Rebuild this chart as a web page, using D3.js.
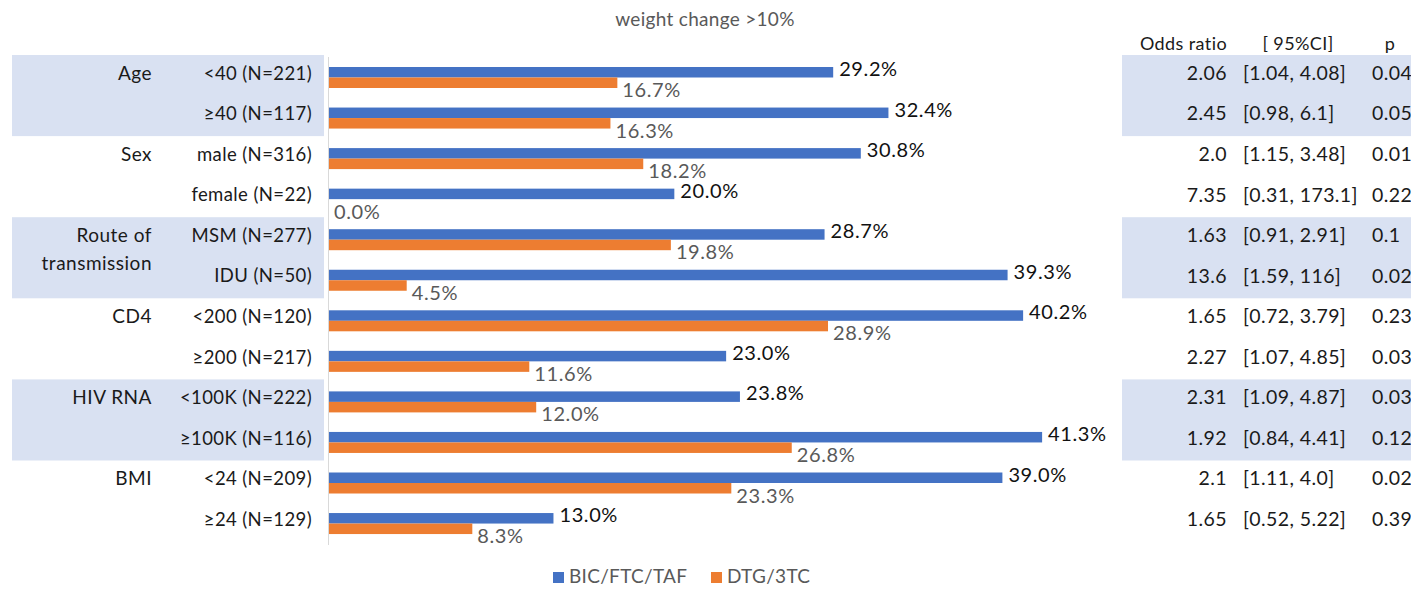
<!DOCTYPE html>
<html>
<head>
<meta charset="utf-8">
<script src="https://cdn.jsdelivr.net/npm/d3@7/dist/d3.min.js"></script>
<style>
  html, body { margin: 0; padding: 0; background: #fff; }
  svg text { font-family: Lato, "Open Sans", sans-serif; }
</style>
</head>
<body>
<svg id="chart" width="1411" height="592"></svg>
<script>
// Subgroups, top to bottom
const subgroups = ["<40 (N=221)", "≥40 (N=117)", "male (N=316)", "female (N=22)",
  "MSM (N=277)", "IDU (N=50)", "<200 (N=120)", "≥200 (N=217)",
  "<100K (N=222)", "≥100K (N=116)", "<24 (N=209)", "≥24 (N=129)"];
// Group headers: label lines and the first subgroup index each covers
const groupNames = [["Age"], ["Sex"], ["Route of", "transmission"], ["CD4"], ["HIV RNA"], ["BMI"]];
const groupStart = [0, 2, 4, 6, 8, 10];
const groupShaded = [true, false, true, false, true, false];

// Share with weight change >10% (%)
const bicValues = [29.2, 32.4, 30.8, 20.0, 28.7, 39.3, 40.2, 23.0, 23.8, 41.3, 39.0, 13.0];
const dtgValues = [16.7, 16.3, 18.2, 0.0, 19.8, 4.5, 28.9, 11.6, 12.0, 26.8, 23.3, 8.3];

// Odds ratio table
const oddsRatio = ["2.06", "2.45", "2.0", "7.35", "1.63", "13.6", "1.65", "2.27", "2.31", "1.92", "2.1", "1.65"];
const ciText = ["[1.04, 4.08]", "[0.98, 6.1]", "[1.15, 3.48]", "[0.31, 173.1]", "[0.91, 2.91]", "[1.59, 116]",
  "[0.72, 3.79]", "[1.07, 4.85]", "[1.09, 4.87]", "[0.84, 4.41]", "[1.11, 4.0]", "[0.52, 5.22]"];
const pValues = ["0.04", "0.05", "0.01", "0.22", "0.1", "0.02", "0.23", "0.03", "0.03", "0.12", "0.02", "0.39"];

const seriesNames = ["BIC/FTC/TAF", "DTG/3TC"];
const colors = ["#4472C4", "#ED7D31"];
const shade = "#D9E1F2";

const svg = d3.select("#chart");

const x = d3.scaleLinear().domain([0, 45]).range([329, 1106]);
const y = d3.scaleBand().domain(d3.range(subgroups.length)).range([55, 55 + 40.55 * subgroups.length]).padding(0);
const bw = y.bandwidth();

// Shaded group bands (left labels and right table)
groupStart.forEach((s, gi) => {
  if (!groupShaded[gi]) return;
  const y0 = y(s), y1 = y(s + 1) + bw;
  svg.append("rect").attr("x", 12).attr("y", y0).attr("width", 312).attr("height", y1 - y0).attr("fill", shade);
  svg.append("rect").attr("x", 1122).attr("y", y0).attr("width", 289).attr("height", y1 - y0).attr("fill", shade);
});

// Title
svg.append("text").attr("x", 705).attr("y", 21).attr("text-anchor", "middle").attr("dominant-baseline", "middle")
  .attr("font-size", 19).attr("letter-spacing", 0.3).attr("fill", "#595959").text("weight change >10%");

// Category axis line
svg.append("line").attr("x1", x(0) - 0.5).attr("x2", x(0) - 0.5)
  .attr("y1", 57).attr("y2", 545).attr("stroke", "#d9d9d9").attr("stroke-width", 1);

// Group labels
groupStart.forEach((s, gi) => {
  const lines = groupNames[gi];
  lines.forEach((ln, li) => {
    svg.append("text").attr("x", 152).attr("y", y(s) + 20 + li * 28)
      .attr("text-anchor", "end").attr("dominant-baseline", "middle")
      .attr("font-size", 19).attr("letter-spacing", 0.5).attr("fill", "#1a1a1a").text(ln);
  });
});

// Subgroup labels
svg.append("g").selectAll("text").data(subgroups).join("text")
  .attr("x", 312).attr("y", (d, i) => y(i) + 20)
  .attr("text-anchor", "end").attr("dominant-baseline", "middle")
  .attr("font-size", 18.5).attr("letter-spacing", 0.4).attr("fill", "#1a1a1a").text(d => d);

// Bars
const barH = 10.5;
const bars = svg.append("g");
bars.selectAll("rect.bic").data(bicValues).join("rect").attr("class", "bic")
  .attr("x", x(0)).attr("y", (d, i) => y(i) + 12)
  .attr("width", d => x(d) - x(0)).attr("height", barH).attr("fill", colors[0]);
bars.selectAll("rect.dtg").data(dtgValues).join("rect").attr("class", "dtg")
  .attr("x", x(0)).attr("y", (d, i) => y(i) + 12 + barH)
  .attr("width", d => x(d) - x(0)).attr("height", barH).attr("fill", colors[1]);

// Value labels
bars.selectAll("text.bicl").data(bicValues).join("text").attr("class", "bicl")
  .attr("x", d => x(d) + 6).attr("y", (d, i) => y(i) + 16)
  .attr("dominant-baseline", "middle").attr("font-size", 20).attr("letter-spacing", 0.6)
  .attr("fill", "#111").text(d => d.toFixed(1) + "%");
bars.selectAll("text.dtgl").data(dtgValues).join("text").attr("class", "dtgl")
  .attr("x", d => x(d) + 5).attr("y", (d, i) => y(i) + 37)
  .attr("dominant-baseline", "middle").attr("font-size", 20).attr("letter-spacing", 0.6)
  .attr("fill", "#595959").text(d => d.toFixed(1) + "%");

// Table header
const hdr = svg.append("g").attr("font-size", 18).attr("letter-spacing", 0.4).attr("fill", "#1a1a1a");
hdr.append("text").attr("x", 1227).attr("y", 45).attr("text-anchor", "end").attr("dominant-baseline", "middle").text("Odds ratio");
hdr.append("text").attr("x", 1298).attr("y", 45).attr("text-anchor", "middle").attr("dominant-baseline", "middle").text("[ 95%CI]");
hdr.append("text").attr("x", 1390).attr("y", 45).attr("text-anchor", "middle").attr("dominant-baseline", "middle").text("p");

// Table rows
const tbl = svg.append("g").attr("font-size", 19.5).attr("letter-spacing", 0.4).attr("fill", "#1a1a1a");
tbl.selectAll("text.or").data(oddsRatio).join("text").attr("class", "or")
  .attr("x", 1227).attr("y", (d, i) => y(i) + 20).attr("text-anchor", "end")
  .attr("dominant-baseline", "middle").text(d => d);
tbl.selectAll("text.ci").data(ciText).join("text").attr("class", "ci")
  .attr("x", 1243).attr("y", (d, i) => y(i) + 20)
  .attr("dominant-baseline", "middle").text(d => d);
tbl.selectAll("text.p").data(pValues).join("text").attr("class", "p")
  .attr("x", 1372).attr("y", (d, i) => y(i) + 20)
  .attr("dominant-baseline", "middle").text(d => d);

// Legend
const legX = [553, 711];
const leg = svg.append("g");
seriesNames.forEach((n, i) => {
  leg.append("rect").attr("x", legX[i]).attr("y", 572).attr("width", 11).attr("height", 11).attr("fill", colors[i]);
  leg.append("text").attr("x", legX[i] + 16).attr("y", 578).attr("dominant-baseline", "middle")
    .attr("font-size", 19).attr("letter-spacing", 0.3).attr("fill", "#595959").text(n);
});
</script>
</body>
</html>
